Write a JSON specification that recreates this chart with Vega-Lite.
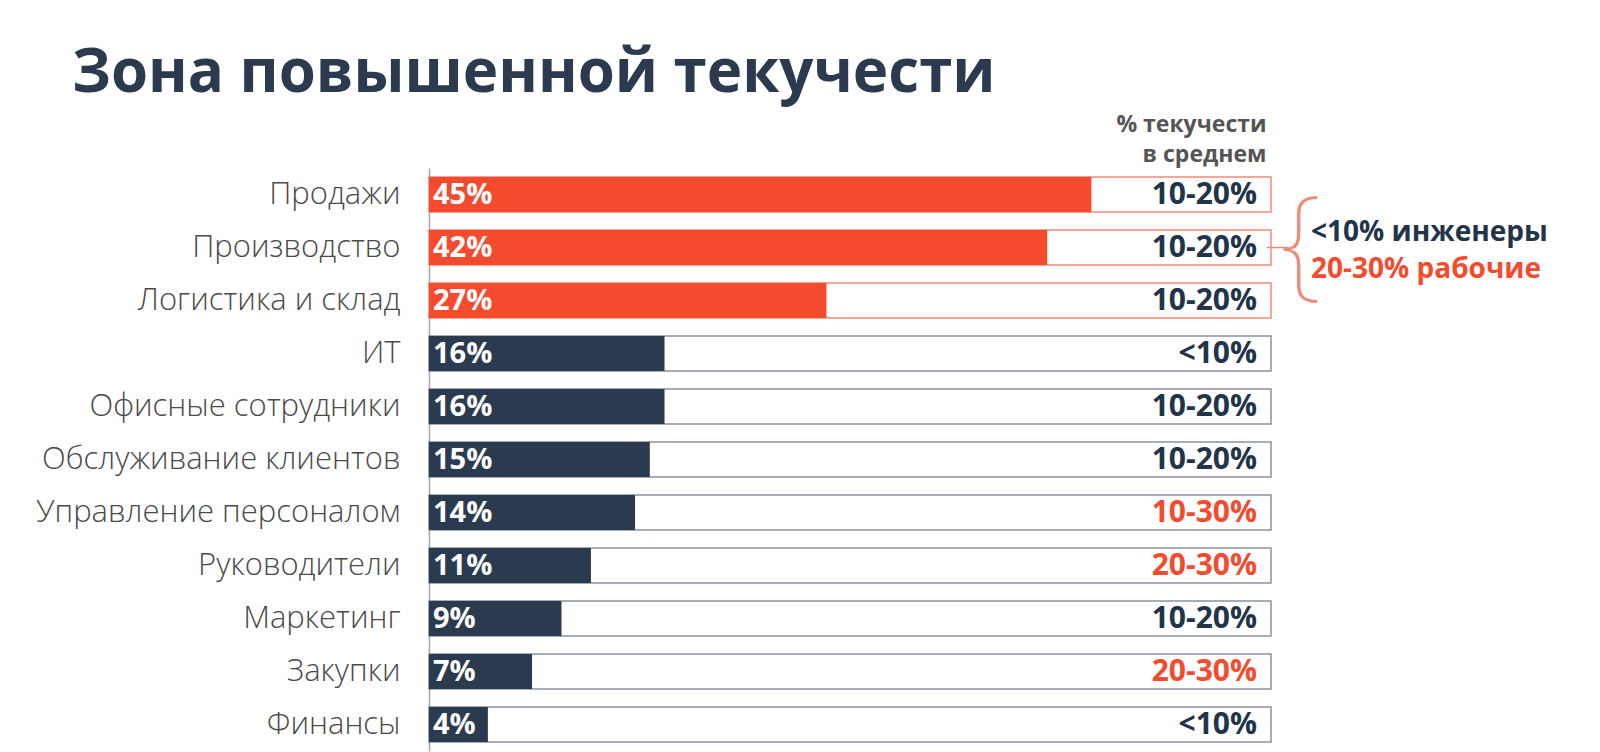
{
  "$schema": "https://vega.github.io/schema/vega-lite/v6.json",
  "autosize": "none",
  "width": 842,
  "height": 583,
  "padding": {"left": 429, "top": 168, "right": 329, "bottom": 1},
  "background": "white",
  "config": {"view": {"stroke": null}, "font": "Open Sans"},
  "title": {
    "text": "Зона повышенной текучести",
    "anchor": "start",
    "frame": "group",
    "font": "Open Sans",
    "fontSize": 60,
    "fontWeight": "bold",
    "color": "#2b3a4e",
    "dx": -357,
    "dy": 2,
    "offset": 10
  },
  "data": {
    "values": [
      {"cat": "Продажи", "pct": 45, "label": "45%", "range": "10-20%", "zone": "high"},
      {"cat": "Производство", "pct": 42, "label": "42%", "range": "10-20%", "zone": "high"},
      {"cat": "Логистика и склад", "pct": 27, "label": "27%", "range": "10-20%", "zone": "high"},
      {"cat": "ИТ", "pct": 16, "label": "16%", "range": "<10%", "zone": "normal"},
      {"cat": "Офисные сотрудники", "pct": 16, "label": "16%", "range": "10-20%", "zone": "normal"},
      {"cat": "Обслуживание клиентов", "pct": 15, "label": "15%", "range": "10-20%", "zone": "normal"},
      {"cat": "Управление персоналом", "pct": 14, "label": "14%", "range": "10-30%", "zone": "normal"},
      {"cat": "Руководители", "pct": 11, "label": "11%", "range": "20-30%", "zone": "normal"},
      {"cat": "Маркетинг", "pct": 9, "label": "9%", "range": "10-20%", "zone": "normal"},
      {"cat": "Закупки", "pct": 7, "label": "7%", "range": "20-30%", "zone": "normal"},
      {"cat": "Финансы", "pct": 4, "label": "4%", "range": "<10%", "zone": "normal"}
    ]
  },
  "encoding": {
    "y": {
      "field": "cat",
      "type": "nominal",
      "sort": null,
      "scale": {"paddingInner": 0.344, "paddingOuter": 0.172},
      "axis": {
        "title": null,
        "ticks": false,
        "labelFontSize": 31,
        "labelFont": "Open Sans",
        "labelFontWeight": 300,
        "labelColor": "#4a4a4a",
        "labelPadding": 29,
        "labelLimit": 0,
        "domainColor": "#a3a7ad",
        "domainWidth": 1.5,
        "grid": false
      }
    }
  },
  "layer": [
    {
      "mark": {"type": "bar", "fill": "white", "strokeWidth": 1.5},
      "encoding": {
        "x": {
          "datum": 57.2,
          "type": "quantitative",
          "scale": {"domain": [0, 57.2], "nice": false},
          "axis": {
            "orient": "top",
            "labels": false,
            "ticks": false,
            "domain": false,
            "grid": false,
            "title": ["% текучести", "в среднем"],
            "titleFont": "Open Sans",
            "titleFontSize": 23,
            "titleFontWeight": "bold",
            "titleColor": "#555555",
            "titleAnchor": "end",
            "titleAlign": "right",
            "titleBaseline": "alphabetic",
            "titleX": 837,
            "titleY": -37,
            "titleLineHeight": 30
          }
        },
        "stroke": {
          "field": "zone",
          "type": "nominal",
          "scale": {"domain": ["high", "normal"], "range": ["#f38a78", "#8a93a1"]},
          "legend": null
        }
      }
    },
    {
      "mark": {"type": "bar"},
      "encoding": {
        "x": {"field": "pct", "type": "quantitative"},
        "color": {
          "field": "zone",
          "type": "nominal",
          "scale": {"domain": ["high", "normal"], "range": ["#f44b2e", "#2b3b4f"]},
          "legend": null
        }
      }
    },
    {
      "mark": {"type": "text", "align": "left", "dx": 4, "font": "Open Sans", "fontSize": 29, "fontWeight": "bold", "color": "white"},
      "encoding": {
        "x": {"datum": 0, "type": "quantitative"},
        "text": {"field": "label"}
      }
    },
    {
      "mark": {"type": "text", "align": "right", "dx": -14, "font": "Open Sans", "fontSize": 30, "fontWeight": "bold"},
      "encoding": {
        "x": {"datum": 57.2, "type": "quantitative"},
        "text": {"field": "range"},
        "color": {
          "condition": {"test": "datum.range === '10-30%' || datum.range === '20-30%'", "value": "#f44b2e"},
          "value": "#22344a"
        }
      }
    },
    {
      "transform": [{"filter": "datum.cat === 'Производство'"}],
      "mark": {"type": "rule", "color": "#f38a78", "strokeWidth": 1.5},
      "encoding": {
        "x": {"datum": 56.9, "type": "quantitative"},
        "x2": {"datum": 58.4}
      }
    },
    {
      "transform": [{"filter": "datum.cat === 'Производство'"}],
      "mark": {"type": "text", "text": "{", "align": "center", "baseline": "middle", "dx": 30, "dy": -1, "font": "Noto Sans", "fontSize": 122, "fontWeight": 100, "color": "#f38a78"},
      "encoding": {
        "x": {"datum": 57.2, "type": "quantitative"}
      }
    },
    {
      "transform": [{"filter": "datum.cat === 'Производство'"}],
      "mark": {"type": "text", "text": "<10% инженеры", "align": "left", "dx": 40, "dy": -15, "font": "Open Sans", "fontSize": 28, "fontWeight": "bold", "color": "#22344a"},
      "encoding": {
        "x": {"datum": 57.2, "type": "quantitative"}
      }
    },
    {
      "transform": [{"filter": "datum.cat === 'Производство'"}],
      "mark": {"type": "text", "text": "20-30% рабочие", "align": "left", "dx": 40, "dy": 22, "font": "Open Sans", "fontSize": 28, "fontWeight": "bold", "color": "#f44b2e"},
      "encoding": {
        "x": {"datum": 57.2, "type": "quantitative"}
      }
    }
  ]
}
